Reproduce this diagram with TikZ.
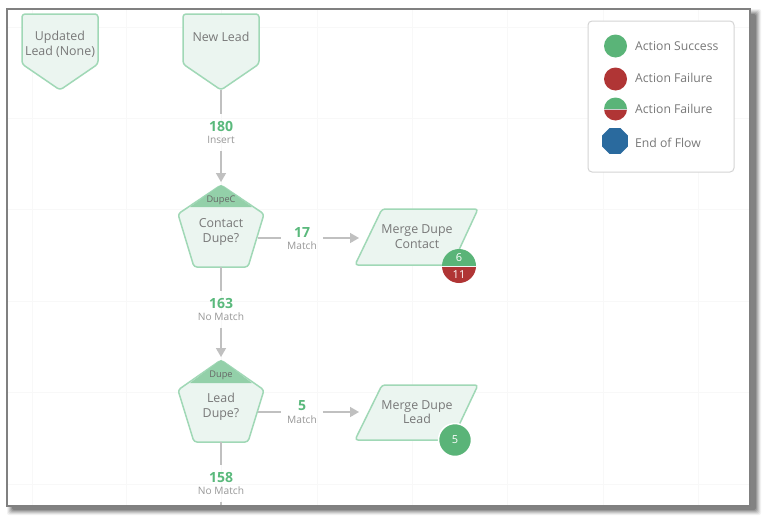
\documentclass[tikz,border=0pt]{standalone}
\usepackage{fontspec}
\setmainfont{Open Sans}
\usetikzlibrary{arrows.meta,shapes.geometric}
\definecolor{txt}{HTML}{787878}
\definecolor{sub}{HTML}{989898}
\definecolor{num}{HTML}{5AB97C}
\definecolor{okc}{HTML}{5AB478}
\definecolor{badc}{HTML}{B03535}
\definecolor{endc}{HTML}{2A6A9E}
\definecolor{fillc}{HTML}{EBF5F0}
\definecolor{edgec}{HTML}{A0D8B6}
\definecolor{headc}{HTML}{93D0A9}
\definecolor{conn}{HTML}{C0C0C0}
\definecolor{gridc}{HTML}{F8F8F8}
\tikzset{
  x=1pt,y=-1pt,
  shapebox/.style={draw=edgec,fill=fillc,line width=1.5pt,rounded corners=3pt,line join=round},
  body/.style={text=txt,align=center,font=\fontsize{12.4}{14.6}\selectfont,inner sep=0pt},
  tag/.style={text=txt!85!black,font=\fontsize{9.2}{10}\selectfont,inner sep=0pt},
  flowlabel/.style={align=center,inner sep=0pt,outer ysep=7pt,outer xsep=6pt,font=\fontsize{10.2}{12.6}\selectfont,text=sub},
  link/.style={draw=conn,line width=1.5pt},
  linkarrow/.style={link,-{Triangle[length=9pt,width=10pt]}},
  badge/.style={text=white,font=\fontsize{11}{12}\selectfont,inner sep=0pt},
  legendtxt/.style={text=txt,anchor=west,font=\fontsize{12.2}{14}\selectfont,inner sep=0pt},
  dot/.style={circle,inner sep=0pt,minimum size=#1}
}
\newcommand{\flowcount}[1]{{\fontsize{14}{14}\selectfont\bfseries\color{num}#1}}
\begin{document}
\begin{tikzpicture}
\useasboundingbox (0,0) rectangle (768,525);
\fill[white] (0,0) rectangle (768,525);
% shadow
\foreach \d/\o in {5/0.05,4/0.07,3/0.09,2/0.11,1/0.13,0/0.16}
  \fill[black,opacity=\o,rounded corners=2pt] (12-\d,14-\d) rectangle (756+\d,510+\d);
% canvas
\fill[white] (7,9) rectangle (750,506);
\foreach \gx in {32,126,221,317,412,507,603,698}
  \draw[gridc,line width=0.8pt] (\gx,10) -- (\gx,505);
\foreach \gy in {27,118,209,301,392,484}
  \draw[gridc,line width=0.8pt] (8,\gy) -- (749,\gy);
% trigger shapes
\draw[shapebox] (22,14) -- (98,14) -- (98,64) -- (60,90) -- (22,64) -- cycle;
\node[body] (updated) at (60,44.5) {Updated\\Lead (None)};
\draw[shapebox] (183,14) -- (259,14) -- (259,64) -- (221,90) -- (183,64) -- cycle;
\node[body] (newlead) at (221,37) {New Lead};
\coordinate (newtip) at (221,90);
% pentagon 1
\draw[shapebox] (221,185) -- (264,214) -- (248,267) -- (194,267) -- (178,214) -- cycle;
\fill[headc] (221,185) -- (252,207) -- (190,207) -- cycle;
\node[tag] (dupec) at (221,200) {DupeC};
\node[body] (contact) at (221,232) {Contact\\Dupe?};
\coordinate (p1top) at (221,182);
\coordinate (p1bot) at (221,267);
\coordinate (p1right) at (258,238);
% pentagon 2
\draw[shapebox] (221,360) -- (264,390) -- (248,442) -- (194,442) -- (178,390) -- cycle;
\fill[headc] (221,360) -- (252,383) -- (190,383) -- cycle;
\node[tag] (dupe) at (221,375) {Dupe};
\node[body] (lead) at (221,407) {Lead\\Dupe?};
\coordinate (p2top) at (221,357);
\coordinate (p2bot) at (221,442);
\coordinate (p2right) at (258,412);
\coordinate (flowend) at (221,505);
% merge shapes
\draw[shapebox] (382,209) -- (478,209) -- (452,265) -- (355,265) -- cycle;
\node[body] (merge1) at (417,236.5) {Merge Dupe\\Contact};
\coordinate (m1left) at (359,238);
\draw[shapebox] (382,385) -- (478,385) -- (452,440) -- (355,440) -- cycle;
\node[body] (merge2) at (417,412) {Merge Dupe\\Lead};
\coordinate (m2left) at (359,412);
% flow labels
\node[flowlabel] (l180) at (221,132.5) {\flowcount{180}\\Insert};
\node[flowlabel] (l163) at (221,309.5) {\flowcount{163}\\No Match};
\node[flowlabel] (l158) at (221,483.5) {\flowcount{158}\\No Match};
\node[flowlabel] (l17) at (302,238.5) {\flowcount{17}\\Match};
\node[flowlabel] (l5) at (302,412) {\flowcount{5}\\Match};
% connectors
\draw[link] (newtip) -- (l180.north);
\draw[linkarrow] (l180.south) -- (p1top);
\draw[link] (p1bot) -- (l163.north);
\draw[linkarrow] (l163.south) -- (p2top);
\draw[link] (p2bot) -- (l158.north);
\draw[link] (l158.south) -- (flowend);
\draw[link] (p1right) -- (l17.west |- p1right);
\draw[linkarrow] (l17.east |- m1left) -- (m1left);
\draw[link] (p2right) -- (l5.west |- p2right);
\draw[linkarrow] (l5.east |- m2left) -- (m2left);
% badges
\begin{scope}
  \clip (441,249) rectangle (477,266);
  \fill[okc] (459,266) circle (17);
\end{scope}
\begin{scope}
  \clip (441,266) rectangle (477,284);
  \fill[badc] (459,266) circle (17);
\end{scope}
\draw[fillc!70!white,line width=1pt] (442,266) -- (476,266);
\node[badge] (b6) at (459,258) {6};
\node[badge] (b11) at (459,274.5) {11};
\node[dot=33pt,fill=okc,draw=white,line width=1.5pt,badge] (b5) at (455,440) {5};
% legend
\draw[draw=black!17,fill=white,line width=1pt,rounded corners=4pt] (588,21) rectangle (734,172);
\node[dot=23pt,fill=okc] (lg1) at (615.5,46) {};
\node[dot=23pt,fill=badc] (lg2) at (615.5,79) {};
\begin{scope}
  \clip (603,97) rectangle (628,109);
  \fill[okc] (615.5,109) circle (11.5);
\end{scope}
\begin{scope}
  \clip (603,109) rectangle (628,121);
  \fill[badc] (615.5,109) circle (11.5);
\end{scope}
\draw[black!20,line width=1pt] (604,109) -- (627,109);
\node[regular polygon,regular polygon sides=8,fill=endc,minimum size=28pt,inner sep=0pt] (lg4) at (615,141) {};
\node[legendtxt] (lt1) at (635,46) {Action Success};
\node[legendtxt] (lt2) at (635,78) {Action Failure};
\node[legendtxt] (lt3) at (635,109) {Action Failure};
\node[legendtxt] (lt4) at (635,143) {End of Flow};
% frame
\draw[black!50,line width=1.6pt] (7,9) rectangle (750,506);
\end{tikzpicture}
\end{document}
